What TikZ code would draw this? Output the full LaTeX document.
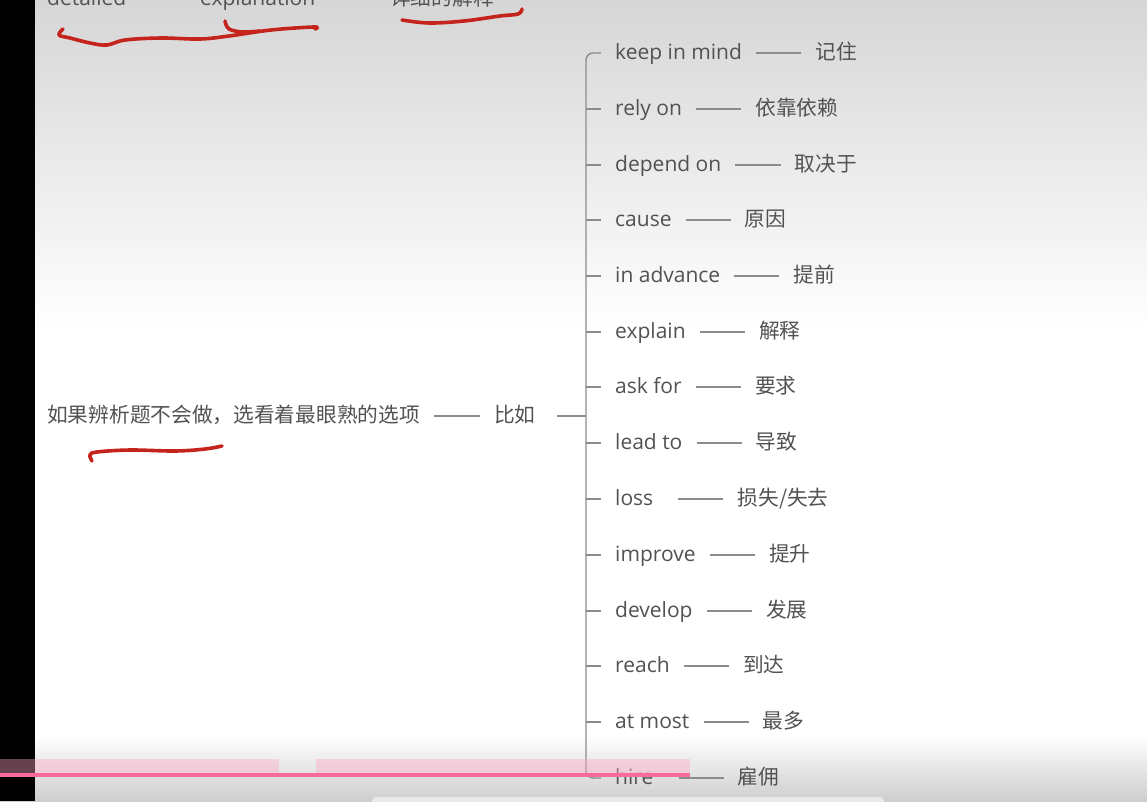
\documentclass[tikz,border=0pt]{standalone}
\usepackage{fontspec}
\setmainfont{Open Sans}
\newfontfamily\cjk{Noto Sans CJK SC}
\usetikzlibrary{positioning}
\definecolor{inkgray}{RGB}{82,82,82}
\definecolor{linegray}{RGB}{140,140,140}
\definecolor{markred}{RGB}{196,36,28}
\definecolor{hlpink}{RGB}{255,166,197}
\definecolor{barpink}{RGB}{250,108,152}
\definecolor{topgray}{RGB}{214,214,214}
\definecolor{botgray}{RGB}{206,206,206}
\definecolor{scrollgray}{RGB}{232,232,232}
\tikzset{
  en/.style={anchor=west, inner xsep=14pt, inner ysep=0pt, text height=13.5pt,
    text depth=0pt, text=inkgray, font=\fontsize{21}{25}\selectfont},
  cn/.style={en, font=\cjk\fontsize{20.7}{25}\selectfont},
  link/.style={draw=linegray, line width=1.2pt},
  branch/.style={draw=linegray, line width=1.4pt},
  pen/.style={draw=markred, line width=3.6pt, line cap=round, line join=round}
}

\begin{document}
\begin{tikzpicture}[x=1pt,y=-1pt]
\useasboundingbox (0,0) rectangle (1147,801);
\clip (0,0) rectangle (1147,801);

% Screen background
\fill[white] (0,0) rectangle (1147,801);
\shade[top color=topgray, bottom color=white] (0,0) rectangle (1147,330);
\shade[top color=white, bottom color=botgray] (0,735) rectangle (1147,801);
\fill[black] (0,0) rectangle (35,801);
\fill[scrollgray, rounded corners=4pt] (372,797) rectangle (884,812);

% Cropped heading words
\node[en, anchor=base west] (detailed) at (33,5) {detailed};
\node[en, anchor=base west] (explan) at (186,5) {explanation};
\node[cn, anchor=base west] (explancn) at (376,5) {详细的解释};

% Root topic
\node[cn] (root) at (33,416) {如果辨析题不会做，选看着最眼熟的选项};
\node[cn, right=46pt of root] (biru) {比如};
\coordinate (hub) at (586,416);

% Branch rows
\node[en] (keep) at (601,53) {keep in mind};
\node[cn, right=45pt of keep] (keepcn) {记住};
\node[en] (rely) at (601,109) {rely on};
\node[cn, right=45pt of rely] (relycn) {依靠依赖};
\node[en] (depend) at (601,165) {depend on};
\node[cn, right=45pt of depend] (dependcn) {取决于};
\node[en] (cause) at (601,220) {cause};
\node[cn, right=45pt of cause] (causecn) {原因};
\node[en] (advance) at (601,276) {in advance};
\node[cn, right=45pt of advance] (advancecn) {提前};
\node[en] (explain) at (601,332) {explain};
\node[cn, right=45pt of explain] (explaincn) {解释};
\node[en] (askfor) at (601,387) {ask for};
\node[cn, right=45pt of askfor] (askforcn) {要求};
\node[en] (leadto) at (601,443) {lead to};
\node[cn, right=45pt of leadto] (leadtocn) {导致};
\node[en] (loss) at (601,499) {loss};
\node[cn, right=56pt of loss] (losscn) {损失/失去};
\node[en] (improve) at (601,555) {improve};
\node[cn, right=45pt of improve] (improvecn) {提升};
\node[en] (develop) at (601,611) {develop};
\node[cn, right=45pt of develop] (developcn) {发展};
\node[en] (reach) at (601,666) {reach};
\node[cn, right=45pt of reach] (reachcn) {到达};
\node[en] (atmost) at (601,722) {at most};
\node[cn, right=45pt of atmost] (atmostcn) {最多};
\node[en] (hire) at (601,778) {hire};
\node[cn, right=56pt of hire] (hirecn) {雇佣};

% Connectors
\draw[link] (root) -- (biru);
\draw[branch, shorten <=7pt] (biru.east) -- (hub);
\draw[branch, rounded corners=7pt] (keep.west) -| (hub) |- (hire.west);
\draw[branch] (hub |- rely.west) -- (rely.west);
\draw[branch] (hub |- depend.west) -- (depend.west);
\draw[branch] (hub |- cause.west) -- (cause.west);
\draw[branch] (hub |- advance.west) -- (advance.west);
\draw[branch] (hub |- explain.west) -- (explain.west);
\draw[branch] (hub |- askfor.west) -- (askfor.west);
\draw[branch] (hub |- leadto.west) -- (leadto.west);
\draw[branch] (hub |- loss.west) -- (loss.west);
\draw[branch] (hub |- improve.west) -- (improve.west);
\draw[branch] (hub |- develop.west) -- (develop.west);
\draw[branch] (hub |- reach.west) -- (reach.west);
\draw[branch] (hub |- atmost.west) -- (atmost.west);

\draw[link] (keep) -- (keepcn);
\draw[link] (rely) -- (relycn);
\draw[link] (depend) -- (dependcn);
\draw[link] (cause) -- (causecn);
\draw[link] (advance) -- (advancecn);
\draw[link] (explain) -- (explaincn);
\draw[link] (askfor) -- (askforcn);
\draw[link] (leadto) -- (leadtocn);
\draw[link] ([xshift=11pt]loss.east) -- (losscn);
\draw[link] (improve) -- (improvecn);
\draw[link] (develop) -- (developcn);
\draw[link] (reach) -- (reachcn);
\draw[link] (atmost) -- (atmostcn);
\draw[link] ([xshift=11pt]hire.east) -- (hirecn);

% Hand-drawn red marks
\draw[pen] plot[smooth, tension=0.6] coordinates {(63,29) (59,35) (70,38) (90,43)
  (107,45) (125,40) (161,38) (200,39) (229,36) (271,30) (314,27) (315,29)};
\draw[pen] plot[smooth, tension=0.6] coordinates {(225,21) (229,29) (243,32) (260,31)};
\draw[pen] plot[smooth, tension=0.6] coordinates {(402,20) (429,23) (464,21)
  (500,16) (518,14) (522,9)};
\draw[pen] plot[smooth, tension=0.6] coordinates {(92,461) (90,455) (97,452)
  (130,450) (175,451) (205,449) (222,446)};

% Pink highlighter strokes
\fill[hlpink, opacity=0.4] (0,759) rectangle (279,773);
\fill[hlpink, opacity=0.4] (316,759) rectangle (690,773);
\fill[barpink] (0,773) rectangle (690,777);

\end{tikzpicture}
\end{document}
